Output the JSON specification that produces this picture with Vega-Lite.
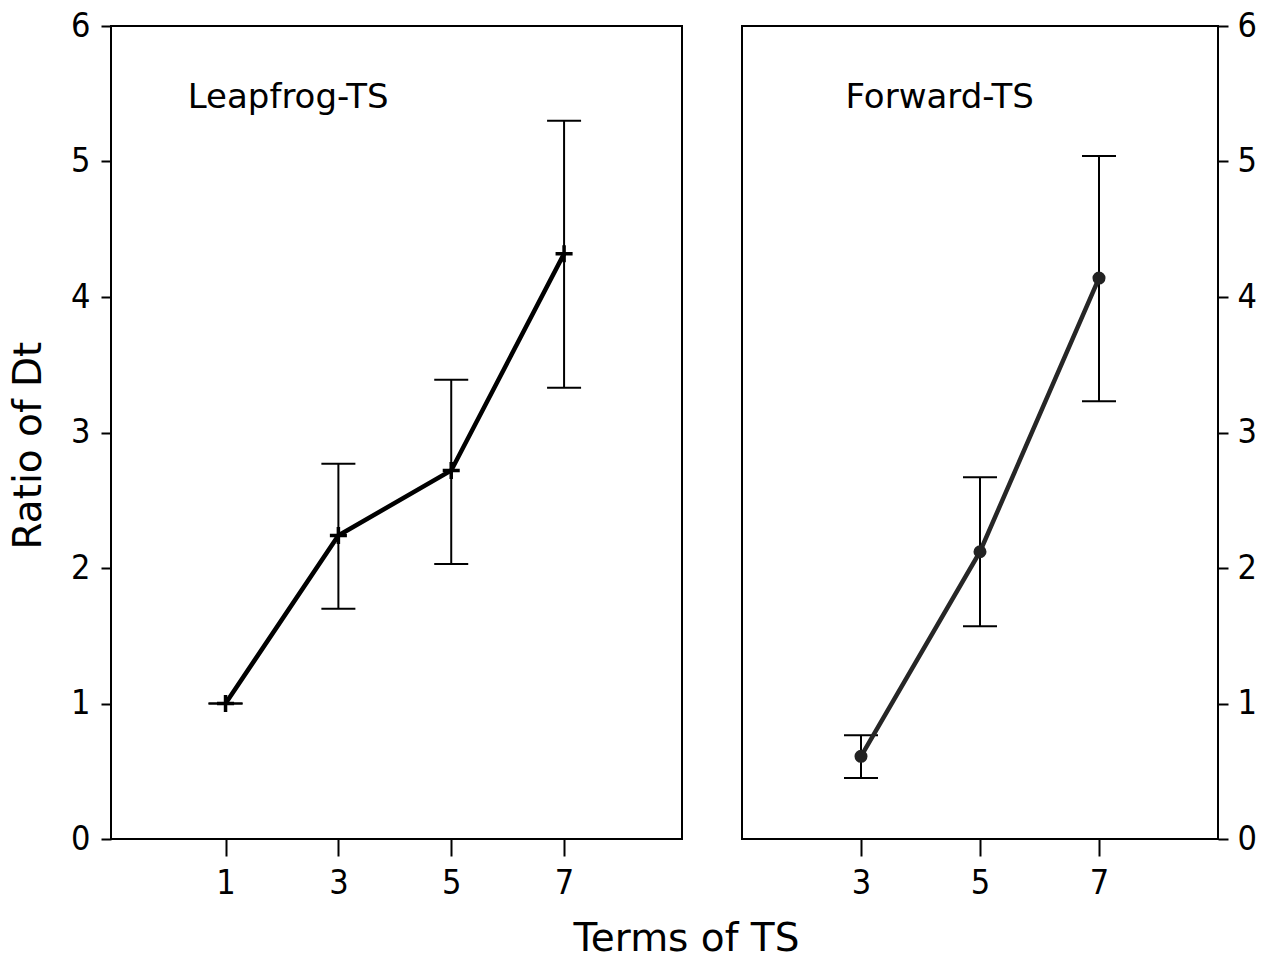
{
  "$schema": "https://vega.github.io/schema/vega-lite/v6.json",
  "background": "white",
  "padding": {"left": 8, "top": 8, "right": 0, "bottom": 0},
  "autosize": {"type": "pad"},
  "bounds": "flush",
  "spacing": 60,
  "config": {
    "view": {"stroke": "black", "strokeWidth": 2},
    "axis": {
      "grid": false,
      "domain": false,
      "tickColor": "black",
      "tickWidth": 2,
      "labelColor": "black",
      "labelFont": "DejaVu Sans Condensed, DejaVu Sans, sans-serif",
      "labelFontSize": 34,
      "labelFlush": false,
      "labelOverlap": false,
      "format": "d",
      "titleFont": "DejaVu Sans",
      "titleFontWeight": "normal",
      "titleColor": "black"
    },
    "text": {"font": "DejaVu Sans", "fontSize": 34, "color": "black"}
  },
  "datasets": {
    "leapfrog": [
      {"terms": 1, "ratio": 1.0, "lo": 1.0, "hi": 1.0},
      {"terms": 3, "ratio": 2.24, "lo": 1.7, "hi": 2.77},
      {"terms": 5, "ratio": 2.72, "lo": 2.03, "hi": 3.39},
      {"terms": 7, "ratio": 4.32, "lo": 3.33, "hi": 5.3}
    ],
    "forward": [
      {"terms": 3, "ratio": 0.61, "lo": 0.45, "hi": 0.765},
      {"terms": 5, "ratio": 2.12, "lo": 1.57, "hi": 2.67},
      {"terms": 7, "ratio": 4.14, "lo": 3.23, "hi": 5.04}
    ]
  },
  "hconcat": [
    {
      "width": 571,
      "height": 813,
      "data": {"name": "leapfrog"},
      "layer": [
        {
          "mark": {"type": "rule", "color": "black", "strokeWidth": 2},
          "encoding": {
            "x": {
              "field": "terms", "type": "quantitative",
              "scale": {"domain": [-1.03, 9.09], "nice": false, "zero": false},
              "axis": {
                "values": [1, 3, 5, 7], "format": "d", "tickSize": 17, "labelPadding": 10,
                "title": "Terms of TS", "titleFontSize": 39,
                "titleX": 575, "titleY": 80, "titleAlign": "center", "titleBaseline": "top"
              }
            },
            "y": {
              "field": "lo", "type": "quantitative",
              "scale": {"domain": [0, 6], "nice": false, "zero": false},
              "axis": {
                "values": [0, 1, 2, 3, 4, 5, 6], "format": "d", "tickSize": 10, "labelPadding": 11,
                "title": "Ratio of Dt", "titleFontSize": 39,
                "titleX": -71, "titleY": 419, "titleAlign": "center", "titleBaseline": "alphabetic"
              }
            },
            "y2": {"field": "hi"}
          }
        },
        {
          "mark": {"type": "tick", "orient": "horizontal", "size": 34, "thickness": 2, "color": "black", "opacity": 1},
          "encoding": {
            "x": {"field": "terms", "type": "quantitative"},
            "y": {"field": "lo", "type": "quantitative"}
          }
        },
        {
          "mark": {"type": "tick", "orient": "horizontal", "size": 34, "thickness": 2, "color": "black", "opacity": 1},
          "encoding": {
            "x": {"field": "terms", "type": "quantitative"},
            "y": {"field": "hi", "type": "quantitative"}
          }
        },
        {
          "mark": {"type": "line", "color": "black", "strokeWidth": 4.5},
          "encoding": {
            "x": {"field": "terms", "type": "quantitative"},
            "y": {"field": "ratio", "type": "quantitative"}
          }
        },
        {
          "mark": {"type": "point", "shape": "M-1,0H1M0,-1V1", "size": 290, "filled": false, "stroke": "black", "strokeWidth": 3.5, "opacity": 1},
          "encoding": {
            "x": {"field": "terms", "type": "quantitative"},
            "y": {"field": "ratio", "type": "quantitative"}
          }
        },
        {
          "data": {"values": [{"label": "Leapfrog-TS"}]},
          "mark": {"type": "text", "align": "left", "baseline": "middle"},
          "encoding": {
            "x": {"datum": 0.33, "type": "quantitative"},
            "y": {"datum": 5.47, "type": "quantitative"},
            "text": {"field": "label"}
          }
        }
      ]
    },
    {
      "width": 476,
      "height": 813,
      "data": {"name": "forward"},
      "layer": [
        {
          "mark": {"type": "rule", "color": "black", "strokeWidth": 2},
          "encoding": {
            "x": {
              "field": "terms", "type": "quantitative",
              "scale": {"domain": [1, 9], "nice": false, "zero": false},
              "axis": {"values": [3, 5, 7], "format": "d", "tickSize": 17, "labelPadding": 10, "title": null}
            },
            "y": {
              "field": "lo", "type": "quantitative",
              "scale": {"domain": [0, 6], "nice": false, "zero": false},
              "axis": {"orient": "right", "values": [0, 1, 2, 3, 4, 5, 6], "format": "d", "tickSize": 10, "labelPadding": 9, "title": null}
            },
            "y2": {"field": "hi"}
          }
        },
        {
          "mark": {"type": "tick", "orient": "horizontal", "size": 34, "thickness": 2, "color": "black", "opacity": 1},
          "encoding": {
            "x": {"field": "terms", "type": "quantitative"},
            "y": {"field": "lo", "type": "quantitative"}
          }
        },
        {
          "mark": {"type": "tick", "orient": "horizontal", "size": 34, "thickness": 2, "color": "black", "opacity": 1},
          "encoding": {
            "x": {"field": "terms", "type": "quantitative"},
            "y": {"field": "hi", "type": "quantitative"}
          }
        },
        {
          "mark": {"type": "line", "color": "#262626", "strokeWidth": 4.5},
          "encoding": {
            "x": {"field": "terms", "type": "quantitative"},
            "y": {"field": "ratio", "type": "quantitative"}
          }
        },
        {
          "mark": {"type": "point", "shape": "circle", "size": 170, "filled": true, "color": "#222222", "opacity": 1},
          "encoding": {
            "x": {"field": "terms", "type": "quantitative"},
            "y": {"field": "ratio", "type": "quantitative"}
          }
        },
        {
          "data": {"values": [{"label": "Forward-TS"}]},
          "mark": {"type": "text", "align": "left", "baseline": "middle"},
          "encoding": {
            "x": {"datum": 2.74, "type": "quantitative"},
            "y": {"datum": 5.47, "type": "quantitative"},
            "text": {"field": "label"}
          }
        }
      ]
    }
  ]
}
